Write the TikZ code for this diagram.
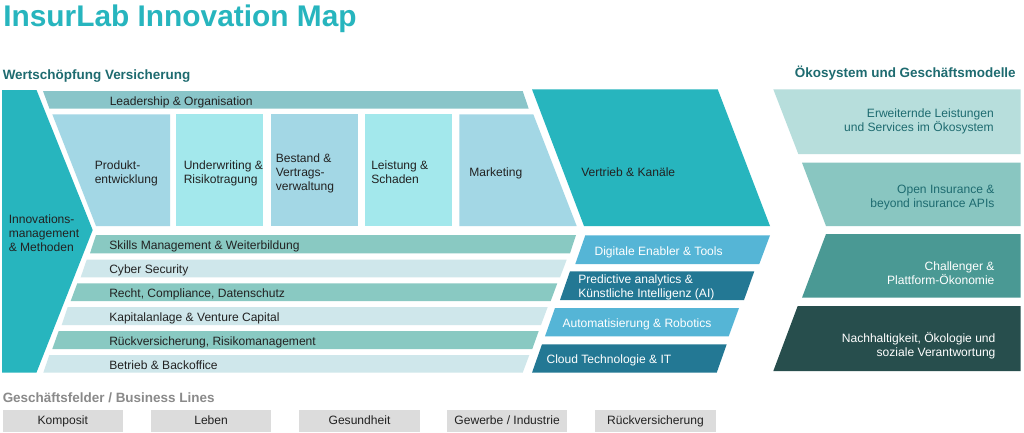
\documentclass[tikz,border=0pt]{standalone}
\usepackage{fontspec}
\setmainfont{Liberation Sans}
\definecolor{cTeal}{HTML}{27B5BE}
\definecolor{cLead}{HTML}{89C5C9}
\definecolor{cProd}{HTML}{A3D7E5}
\definecolor{cUnder}{HTML}{A3E8EC}
\definecolor{cStrip}{HTML}{89C9C2}
\definecolor{cPale}{HTML}{CFE7EB}
\definecolor{cBlue}{HTML}{55B5D6}
\definecolor{cDeep}{HTML}{237894}
\definecolor{cEco}{HTML}{B7DEDC}
\definecolor{cOpen}{HTML}{89C6C1}
\definecolor{cChal}{HTML}{4A9994}
\definecolor{cNach}{HTML}{274E4D}
\definecolor{cGrey}{HTML}{DCDCDC}
\definecolor{cHead}{HTML}{1E6B70}
\definecolor{cHeadGrey}{HTML}{8A8A8A}
\definecolor{cText}{HTML}{222222}
\tikzset{
  x=0.75pt,y=-0.75pt,
  lab/.style={inner sep=0pt,anchor=west,align=left,text=cText,yshift=-0.75pt,font=\fontsize{9.05}{10.5}\selectfont},
  labwhite/.style={lab,text=white},
  labright/.style={inner sep=0pt,anchor=east,align=right,text=cHead,yshift=-0.75pt,font=\fontsize{9.05}{10.5}\selectfont},
  labrightw/.style={labright,text=white},
  head/.style={inner sep=0pt,anchor=west,font=\bfseries\fontsize{10.1}{12}\selectfont,text=cHead},
  biz/.style={inner sep=0pt,anchor=center,fill=cGrey,minimum height=16pt,text height=6.5pt,text depth=1.5pt,text=cText,font=\fontsize{9.05}{10.5}\selectfont,minimum width=90.2pt},
}
\begin{document}
\begin{tikzpicture}
\useasboundingbox (0,0) rectangle (1024,432);
\fill[white] (0,0) rectangle (1024,432);
\node[inner sep=0pt,anchor=west,font=\bfseries\fontsize{22.4}{26}\selectfont,text=cTeal] (title) at (3,18.5) {InsurLab Innovation Map};
\node[head] (hwert) at (2.5,76.5) {Wertschöpfung Versicherung};
\node[head,anchor=east] (heko) at (1016,72.7) {Ökosystem und Geschäftsmodelle};
\node[head,text=cHeadGrey] (hbiz) at (2.5,397.7) {Geschäftsfelder / Business Lines};
% left arrow
\fill[cTeal] (2,90)--(36.5,90)--(92.7,230)--(36.5,372.5)--(2,372.5)--cycle;
\node[lab] (inno) at (8.5,232) {Innovations-\\management\\\& Methoden};
% leadership
\fill[cLead] (43,91)--(522.7,91)--(528.7,108.7)--(49.5,108.7)--cycle;
\node[lab] (lead) at (109.5,101) {Leadership \& Organisation};
% chain
\fill[cProd] (52.3,114.3)--(170,114.3)--(170,226)--(96,226)--cycle;
\node[lab] (prod) at (94.5,172) {Produkt-\\entwicklung};
\fill[cUnder] (176,114.3) rectangle (263.3,226);
\node[lab] (under) at (183.5,172) {Underwriting \&\\Risikotragung};
\fill[cProd] (270.7,114.3) rectangle (357.7,226);
\node[lab] (best) at (275.5,172) {Bestand \&\\Vertrags-\\verwaltung};
\fill[cUnder] (365,114.3) rectangle (452.3,226);
\node[lab] (leist) at (371,171) {Leistung \&\\Schaden};
\fill[cProd] (459.3,114.3)--(533.3,114.3)--(576.7,226)--(459.3,226)--cycle;
\node[lab] (mark) at (469,172) {Marketing};
\fill[cTeal] (532,89.3)--(717.7,89.3)--(770,226)--(584,226)--cycle;
\node[lab] (vert) at (581,171) {Vertrieb \& Kanäle};
% strips
\fill[cStrip] (96,235)--(576,235)--(570,253.3)--(90,253.3)--cycle;
\node[lab] (s1) at (109,245) {Skills Management \& Weiterbildung};
\fill[cPale] (86.7,259.7)--(566.7,259.7)--(560,277.3)--(80.7,277.3)--cycle;
\node[lab] (s2) at (109,269) {Cyber Security};
\fill[cStrip] (77.3,283.3)--(557.3,283.3)--(550.7,301)--(70.7,301)--cycle;
\node[lab] (s3) at (109,293) {Recht, Compliance, Datenschutz};
\fill[cPale] (67.7,307)--(547.7,307)--(541,325)--(61.7,325)--cycle;
\node[lab] (s4) at (109,317) {Kapitalanlage \& Venture Capital};
\fill[cStrip] (58.7,331)--(538.7,331)--(532.3,349)--(52.3,349)--cycle;
\node[lab] (s5) at (109,341) {Rückversicherung, Risikomanagement};
\fill[cPale] (49.3,355)--(529.3,355)--(522.7,372.7)--(43.3,372.7)--cycle;
\node[lab] (s6) at (109,364) {Betrieb \& Backoffice};
% tech
\fill[cBlue] (585.3,235.3)--(770,235.3)--(759.3,264)--(575.3,264)--cycle;
\node[labwhite] (t1) at (594.3,251) {Digitale Enabler \& Tools};
\fill[cDeep] (570,271.3)--(754.3,271.3)--(744,300)--(560,300)--cycle;
\node[labwhite] (t2) at (578,286) {Predictive analytics \&\\Künstliche Intelligenz (AI)};
\fill[cBlue] (555,308)--(739,308)--(728.7,336.3)--(545,336.3)--cycle;
\node[labwhite] (t3) at (562.3,323) {Automatisierung \& Robotics};
\fill[cDeep] (542,344.3)--(726.7,344.3)--(716.7,372.7)--(532,372.7)--cycle;
\node[labwhite] (t4) at (546.3,359) {Cloud Technologie \& IT};
% ecosystem
\fill[cEco] (773.3,89.3)--(1020.7,89.3)--(1020.7,154)--(798.3,154)--cycle;
\node[labright] (e1) at (994,120) {Erweiternde Leistungen\\und Services im Ökosystem};
\fill[cOpen] (802,162.7)--(1020.7,162.7)--(1020.7,226)--(826,226)--cycle;
\node[labright] (e2) at (994.7,197) {Open Insurance \&\\beyond insurance APIs};
\fill[cChal] (826,234)--(1020.7,234)--(1020.7,297.7)--(802,297.7)--cycle;
\node[labrightw] (e3) at (994.7,272) {Challenger \&\\Plattform-Ökonomie};
\fill[cNach] (797.7,306)--(1020.7,306)--(1020.7,371)--(773.3,371)--cycle;
\node[labrightw] (e4) at (995.7,345) {Nachhaltigkeit, Ökologie und\\soziale Verantwortung};
% business lines
\node[biz] (b1) at (62.8,421) {Komposit};
\node[biz] (b2) at (211.1,421) {Leben};
\node[biz] (b3) at (359.5,421) {Gesundheit};
\node[biz] (b4) at (507.1,421) {Gewerbe / Industrie};
\node[biz] (b5) at (655.5,421) {Rückversicherung};
\end{tikzpicture}
\end{document}
